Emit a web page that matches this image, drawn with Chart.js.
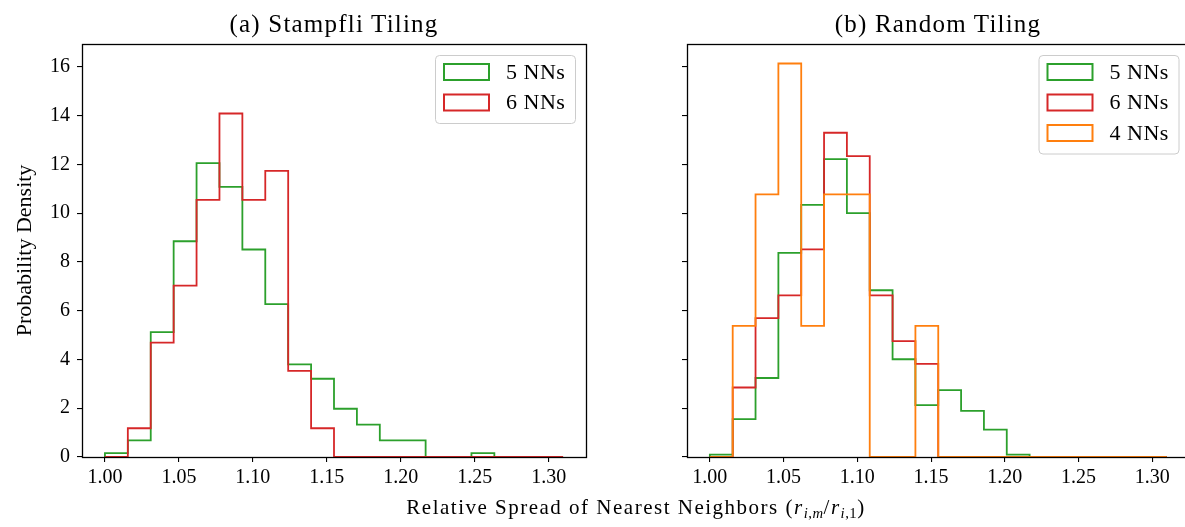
<!DOCTYPE html>
<html>
<head>
<meta charset="utf-8">
<script src="https://cdn.jsdelivr.net/npm/chart.js@4.4.0/dist/chart.umd.min.js"></script>
<style>
  body { margin: 0; background: #fff; overflow: hidden; }
  #fig { position: relative; width: 1185px; height: 527px; overflow: hidden; background: #fff;
         font-family: "Liberation Serif", serif; color: #000; }
  canvas { position: absolute; top: 0; }
  .ttl { position: absolute; top: 9px; width: 400px; font-size: 25px; line-height: 30px;
         text-align: center; white-space: nowrap; letter-spacing: 1.2px; }
  #xlab { position: absolute; left: 136px; width: 1000px; top: 495px; font-size: 21px; line-height: 24px;
          text-align: center; white-space: nowrap; letter-spacing: 1.5px; }
  #xlab sub { font-size: 70%; line-height: 0; vertical-align: -0.3em; letter-spacing: 0.5px; }
</style>
</head>
<body>
<div id="fig">
  <canvas id="left" width="600" height="527" style="left:0"></canvas>
  <canvas id="right" width="600" height="527" style="left:600px"></canvas>
  <div class="ttl" style="left:134px">(a) Stampfli Tiling</div>
  <div class="ttl" style="left:738px">(b) Random Tiling</div>
  <div id="xlab">Relative Spread of Nearest Neighbors (<i>r</i><sub><i>i</i>,<i>m</i></sub>/<i>r</i><sub><i>i</i>,1</sub>)</div>
</div>
<script>
// histogram bins (20 equal bins)
const binLo = 1.0, binHi = 1.3097;
const xTicks = [1.00, 1.05, 1.10, 1.15, 1.20, 1.25, 1.30];
const yTicks = [0, 2, 4, 6, 8, 10, 12, 14, 16];
const xMin = 0.9845, xMax = 1.3252, yMax = 16.94;

// probability density per bin
const stampfli5 = [0.16, 0.68, 5.12, 8.85, 12.05, 11.08, 8.51, 6.27, 3.80, 3.21, 1.98, 1.33, 0.68, 0.68, 0, 0, 0.16, 0, 0, 0];
const stampfli6 = [0, 1.18, 4.69, 7.03, 10.55, 14.09, 10.55, 11.74, 3.53, 1.18, 0, 0, 0, 0, 0, 0, 0, 0, 0, 0];
const random5 = [0.1, 1.55, 3.24, 8.37, 10.34, 12.22, 10.0, 6.84, 4.01, 2.13, 2.74, 1.89, 1.12, 0.1, 0, 0, 0, 0, 0, 0];
const random6 = [0, 2.85, 5.70, 6.63, 8.52, 13.30, 12.34, 6.63, 4.75, 3.82, 0, 0, 0, 0, 0, 0, 0, 0, 0, 0];
const random4 = [0, 5.38, 10.77, 16.14, 5.38, 10.77, 10.77, 0, 0, 5.38, 0, 0, 0, 0, 0, 0, 0, 0, 0, 0];

const seriesLabels = ['5 NNs', '6 NNs', '4 NNs'];
const seriesColors = ['#2ca02c', '#d62728', '#ff7f0e'];

const serif = "'Liberation Serif', serif";

// outline of a step histogram: up from the first edge, across each bin, down at the last edge
function stepPoints(h) {
  const w = (binHi - binLo) / h.length;
  const pts = [{x: binLo, y: 0}];
  h.forEach((v, i) => pts.push({x: binLo + i * w, y: v}));
  pts.push({x: binHi, y: 0});
  return pts;
}

const framePlugin = {
  id: 'frame',
  afterDatasetsDraw(chart) {
    const a = chart.chartArea, c = chart.ctx;
    c.save();
    c.strokeStyle = '#000';
    c.lineWidth = 1.3;
    c.strokeRect(Math.round(a.left) + 0.5, Math.round(a.top) + 0.5,
                 Math.round(a.right - a.left), Math.round(a.bottom - a.top));
    c.restore();
  }
};

// matplotlib-like legend box in the upper right corner
const boxLegend = {
  id: 'boxLegend',
  afterDraw(chart) {
    const a = chart.chartArea, c = chart.ctx, ds = chart.data.datasets;
    const w = 140, rowH = 30.5, h = 37.5 + rowH * (ds.length - 1);
    const left = a.right - 11 - w, top = a.top + 11;
    c.save();
    c.beginPath();
    c.roundRect(left + 0.5, top + 0.5, w, h, 4);
    c.fillStyle = 'rgba(255,255,255,0.8)';
    c.fill();
    c.strokeStyle = '#cccccc';
    c.lineWidth = 1;
    c.stroke();
    c.font = "22px " + serif;
    c.textBaseline = 'middle';
    c.letterSpacing = '0.5px';
    ds.forEach((d, i) => {
      const cy = top + 17 + i * rowH;
      c.strokeStyle = d.borderColor;
      c.lineWidth = 2;
      c.strokeRect(left + 9, cy - 8, 45, 16);
      c.fillStyle = '#000';
      c.fillText(d.label, left + 71, cy + 1);
    });
    c.restore();
  }
};

function makeChart(id, sets, yAxisWidth, padRight, showYLabels) {
  const axisGrid = {display: true, drawOnChartArea: false, drawTicks: true, tickLength: 5,
                    color: '#000', lineWidth: 1.1};
  return new Chart(document.getElementById(id), {
    type: 'line',
    data: {
      datasets: sets.map((h, i) => ({
        label: seriesLabels[i],
        data: stepPoints(h),
        borderColor: seriesColors[i],
        borderWidth: 1.8,
        stepped: 'before',
        pointRadius: 0,
        fill: false,
        clip: false,
        order: sets.length - i
      }))
    },
    options: {
      responsive: false,
      animation: false,
      devicePixelRatio: 1,
      layout: {padding: {left: 0, right: padRight, top: 44, bottom: 0}},
      plugins: {legend: {display: false}, tooltip: {enabled: false}, title: {display: false}},
      scales: {
        x: {
          type: 'linear', min: xMin, max: xMax,
          afterBuildTicks: s => { s.ticks = xTicks.map(v => ({value: v})); },
          afterFit: s => { s.height = 70; },
          grid: axisGrid,
          border: {display: false},
          ticks: {font: {family: serif, size: 20}, color: '#000', padding: 4, maxRotation: 0,
                  autoSkip: false, callback: v => v.toFixed(2)}
        },
        y: {
          min: 0, max: yMax,
          afterBuildTicks: s => { s.ticks = yTicks.map(v => ({value: v})); },
          afterFit: s => { s.width = yAxisWidth; },
          grid: axisGrid,
          border: {display: false},
          ticks: {display: showYLabels, font: {family: serif, size: 20}, color: '#000', padding: 7},
          title: {display: showYLabels, text: 'Probability Density', color: '#000',
                  font: {family: serif, size: 22}, padding: {top: 12, bottom: 0}}
        }
      }
    },
    plugins: [framePlugin, boxLegend]
  });
}

makeChart('left', [stampfli5, stampfli6], 82, 14, true);
makeChart('right', [random5, random6, random4], 87, 10.5, false);
</script>
</body>
</html>
